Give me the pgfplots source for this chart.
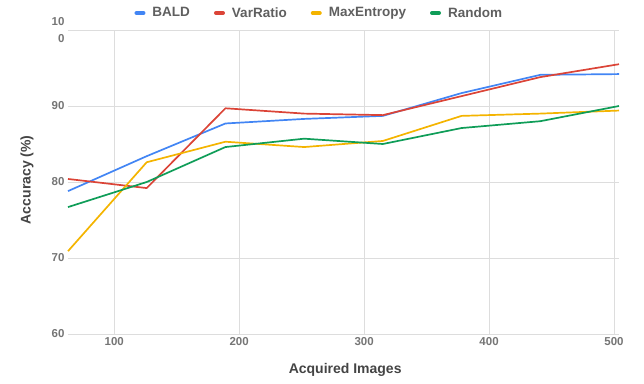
\documentclass[border=0pt]{standalone}
\usepackage{fontspec}
\setmainfont{Liberation Sans}
\usepackage{pgfplots}
\pgfplotsset{compat=1.18}
\definecolor{cblue}{HTML}{4285F4}
\definecolor{cred}{HTML}{DB4437}
\definecolor{cyellow}{HTML}{F4B400}
\definecolor{cgreen}{HTML}{0F9D58}
\definecolor{gridgray}{HTML}{DDDDDD}
\definecolor{tickgray}{HTML}{757575}
\definecolor{labelgray}{HTML}{444444}
\definecolor{leggray}{HTML}{5F5F5F}
\begin{document}
\begin{tikzpicture}
\path (-68pt,-49pt) rectangle (576pt,334pt);
\begin{axis}[
  at={(0pt,0pt)}, anchor=south west,
  scale only axis, width=551pt, height=304pt,
  xmin=63, xmax=504, ymin=60, ymax=100,
  xtick={100,200,300,400,500},
  ytick={60,70,80,90,100},
  yticklabels={60,70,80,90,{10\\0}},
  /pgf/number format/assume math mode=true,
  grid=major,
  major grid style={line width=1pt, color=gridgray},
  axis line style={draw=none},
  tick style={draw=none},
  clip=false,
  ticklabel style={font=\fontsize{11.5}{17}\selectfont\bfseries, color=tickgray},
  yticklabel style={align=right},
  xlabel={Acquired Images},
  ylabel={Accuracy (\%)},
  every axis x label/.style={at={(axis description cs:0.503,-0.118)}, anchor=center,
    font=\fontsize{14}{16}\selectfont\bfseries, color=labelgray},
  every axis y label/.style={at={(axis description cs:-0.0744,0.507)}, rotate=90, anchor=center,
    font=\fontsize{14}{16}\selectfont\bfseries, color=labelgray},
  legend columns=4,
  legend style={at={(axis description cs:0.456,1.056)}, anchor=center, draw=none, fill=none,
    font=\fontsize{13.5}{16}\selectfont\bfseries, text=leggray,
    /tikz/every odd column/.append style={column sep=5pt},
    /tikz/every even column/.append style={column sep=22pt}},
  legend image code/.code={\draw[#1, line width=4pt, line cap=round] (2pt,0pt) -- (9pt,0pt);},
  every axis plot/.append style={line width=1.7pt, line join=round, mark=none},
]
\addplot[cblue] coordinates {(63,78.8) (126,83.4) (189,87.7) (252,88.3) (315,88.7) (378,91.7) (441,94.1) (504,94.2)};
\addlegendentry{BALD}
\addplot[cred] coordinates {(63,80.4) (126,79.2) (189,89.7) (252,89.0) (315,88.8) (378,91.3) (441,93.8) (504,95.5)};
\addlegendentry{VarRatio}
\addplot[cyellow] coordinates {(63,70.9) (126,82.6) (189,85.3) (252,84.6) (315,85.4) (378,88.7) (441,89.0) (504,89.4)};
\addlegendentry{MaxEntropy}
\addplot[cgreen] coordinates {(63,76.7) (126,80.0) (189,84.6) (252,85.7) (315,85.0) (378,87.1) (441,88.0) (504,90.0)};
\addlegendentry{Random}
\end{axis}
\end{tikzpicture}
\end{document}
